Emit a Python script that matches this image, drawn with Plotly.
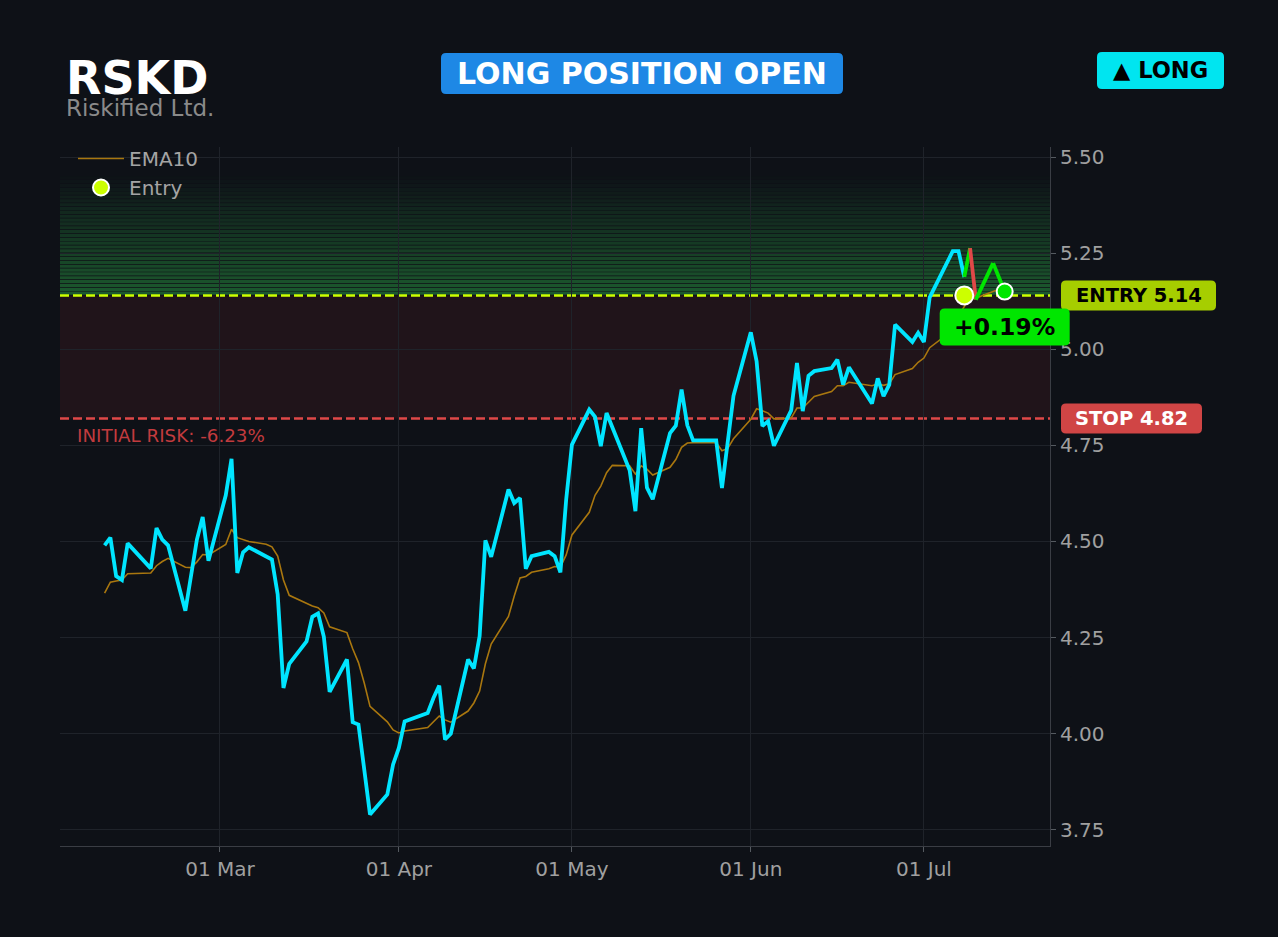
import pandas as pd
import plotly.graph_objects as go

# ---- data ----
ticker = "RSKD"
company = "Riskified Ltd."
entry_price = 5.14
stop_price = 4.82
entry_date = "2026-07-08"

close_dates = [
    "2026-02-09", "2026-02-10", "2026-02-11", "2026-02-12", "2026-02-13",
    "2026-02-17", "2026-02-18", "2026-02-19", "2026-02-20", "2026-02-23",
    "2026-02-25", "2026-02-26", "2026-02-27", "2026-03-02", "2026-03-03",
    "2026-03-04", "2026-03-05", "2026-03-06", "2026-03-10", "2026-03-11",
    "2026-03-12", "2026-03-13", "2026-03-16", "2026-03-17", "2026-03-18",
    "2026-03-19", "2026-03-20", "2026-03-23", "2026-03-24", "2026-03-25",
    "2026-03-27", "2026-03-30", "2026-03-31", "2026-04-01", "2026-04-02",
    "2026-04-06", "2026-04-07", "2026-04-08", "2026-04-09", "2026-04-10",
    "2026-04-13", "2026-04-14", "2026-04-15", "2026-04-16", "2026-04-17",
    "2026-04-20", "2026-04-21", "2026-04-22", "2026-04-23", "2026-04-24",
    "2026-04-27", "2026-04-28", "2026-04-29", "2026-04-30", "2026-05-01",
    "2026-05-04", "2026-05-05", "2026-05-06", "2026-05-07", "2026-05-11",
    "2026-05-12", "2026-05-13", "2026-05-14", "2026-05-15", "2026-05-18",
    "2026-05-19", "2026-05-20", "2026-05-21", "2026-05-22", "2026-05-26",
    "2026-05-27", "2026-05-28", "2026-05-29", "2026-06-01", "2026-06-02",
    "2026-06-03", "2026-06-04", "2026-06-05", "2026-06-08", "2026-06-09",
    "2026-06-10", "2026-06-11", "2026-06-12", "2026-06-15", "2026-06-16",
    "2026-06-17", "2026-06-18", "2026-06-22", "2026-06-23", "2026-06-24",
    "2026-06-25", "2026-06-26", "2026-06-29", "2026-06-30", "2026-07-01",
    "2026-07-02", "2026-07-06", "2026-07-07", "2026-07-08",
]
close_vals = [
    4.49, 4.51, 4.41, 4.40, 4.495,
    4.43, 4.535, 4.505, 4.49, 4.32,
    4.505, 4.564, 4.45, 4.62, 4.715,
    4.418, 4.472, 4.485, 4.453, 4.362,
    4.119, 4.182, 4.24, 4.304, 4.313,
    4.252, 4.109, 4.193, 4.03, 4.024,
    3.79, 3.842, 3.92, 3.963, 4.032,
    4.054, 4.093, 4.125, 3.985, 4.0,
    4.193, 4.17, 4.254, 4.503, 4.46,
    4.635, 4.60, 4.613, 4.429, 4.462,
    4.473, 4.462, 4.42, 4.609, 4.752,
    4.843, 4.824, 4.748, 4.834, 4.685,
    4.579, 4.795, 4.64, 4.61, 4.782,
    4.801, 4.895, 4.802, 4.763, 4.763,
    4.639, 4.76, 4.879, 5.044, 4.969,
    4.80, 4.813, 4.749, 4.841, 4.964,
    4.839, 4.931, 4.943, 4.951, 4.973,
    4.908, 4.953, 4.859, 4.924, 4.878,
    4.908, 5.064, 5.019, 5.043, 5.019,
    5.135, 5.255, 5.255, 5.188,
]

# after the entry
post_dates = ["2026-07-08", "2026-07-09", "2026-07-10", "2026-07-13", "2026-07-15"]
post_vals = [5.188, 5.263, 5.129, 5.224, 5.15]

ema_dates = [
    "2026-02-09", "2026-02-10", "2026-02-11", "2026-02-12", "2026-02-13",
    "2026-02-17", "2026-02-18", "2026-02-19", "2026-02-20", "2026-02-23",
    "2026-02-24", "2026-02-25", "2026-02-26", "2026-02-27", "2026-03-02",
    "2026-03-03", "2026-03-04", "2026-03-05", "2026-03-06", "2026-03-09",
    "2026-03-10", "2026-03-11", "2026-03-12", "2026-03-13", "2026-03-16",
    "2026-03-17", "2026-03-18", "2026-03-19", "2026-03-20", "2026-03-23",
    "2026-03-24", "2026-03-25", "2026-03-26", "2026-03-27", "2026-03-30",
    "2026-03-31", "2026-04-01", "2026-04-02", "2026-04-06", "2026-04-07",
    "2026-04-08", "2026-04-09", "2026-04-10", "2026-04-13", "2026-04-14",
    "2026-04-15", "2026-04-16", "2026-04-17", "2026-04-20", "2026-04-21",
    "2026-04-22", "2026-04-23", "2026-04-24", "2026-04-27", "2026-04-28",
    "2026-04-29", "2026-04-30", "2026-05-01", "2026-05-04", "2026-05-05",
    "2026-05-06", "2026-05-07", "2026-05-08", "2026-05-11", "2026-05-12",
    "2026-05-13", "2026-05-14", "2026-05-15", "2026-05-18", "2026-05-19",
    "2026-05-20", "2026-05-21", "2026-05-22", "2026-05-26", "2026-05-27",
    "2026-05-28", "2026-05-29", "2026-06-01", "2026-06-02", "2026-06-03",
    "2026-06-04", "2026-06-05", "2026-06-08", "2026-06-09", "2026-06-10",
    "2026-06-11", "2026-06-12", "2026-06-15", "2026-06-16", "2026-06-17",
    "2026-06-18", "2026-06-22", "2026-06-23", "2026-06-24", "2026-06-25",
    "2026-06-26", "2026-06-29", "2026-06-30", "2026-07-01", "2026-07-02",
    "2026-07-06", "2026-07-07", "2026-07-08", "2026-07-09", "2026-07-10",
    "2026-07-13", "2026-07-14", "2026-07-15",
]
ema_vals = [
    4.366, 4.394, 4.397, 4.40, 4.416,
    4.418, 4.437, 4.448, 4.456, 4.433,
    4.432, 4.447, 4.466, 4.465, 4.492,
    4.532, 4.51, 4.504, 4.50, 4.493,
    4.486, 4.462, 4.40, 4.36, 4.338,
    4.332, 4.328, 4.314, 4.278, 4.263,
    4.221, 4.185, 4.132, 4.071, 4.031,
    4.01, 4.002, 4.007, 4.016, 4.03,
    4.046, 4.036, 4.03, 4.059, 4.08,
    4.111, 4.182, 4.233, 4.305, 4.358,
    4.405, 4.409, 4.42, 4.429, 4.435,
    4.433, 4.465, 4.517, 4.576, 4.62,
    4.644, 4.679, 4.698, 4.697, 4.675,
    4.697, 4.688, 4.673, 4.693, 4.713,
    4.745, 4.756, 4.757, 4.757, 4.736,
    4.742, 4.767, 4.818, 4.845, 4.84,
    4.834, 4.819, 4.821, 4.847, 4.847,
    4.862, 4.877, 4.89, 4.905, 4.905,
    4.914, 4.905, 4.91, 4.906, 4.91,
    4.934, 4.95, 4.966, 4.977, 5.004,
    5.05, 5.088, 5.112, 5.134, 5.133,
    5.15, 5.156, 5.157,
]

# ---- look ----
FONT = "DejaVu Sans"
BG = "#0e1117"
CYAN = "#00e5ff"
LIME = "#ccff00"
GREEN = "#00e600"
RED = "#e04848"

W, H = 1278, 937
L, R, T, B = 60, 228, 147, 91
PW, PH = W - L - R, H - T - B
y_range = [3.708, 5.526]
x_range = ["2026-02-01 06:30", "2026-07-22 20:30"]


def fx(px):
    return (px - L) / PW


def fy(py):
    return (H - B - py) / PH


def price_px(p):
    return T + (y_range[1] - p) / (y_range[1] - y_range[0]) * PH


def date_px(d):
    t0, t1 = pd.Timestamp(x_range[0]), pd.Timestamp(x_range[1])
    return L + (pd.Timestamp(d) - t0) / (t1 - t0) * PW


def rounded(x0, y0, x1, y1, r=5):
    # rounded box, pixel corners -> paper path
    p = lambda x, y: f"{fx(x):.5f},{fy(y):.5f}"
    return ("M " + p(x0 + r, y0) + " L " + p(x1 - r, y0) + " Q " + p(x1, y0) + " " + p(x1, y0 + r)
            + " L " + p(x1, y1 - r) + " Q " + p(x1, y1) + " " + p(x1 - r, y1)
            + " L " + p(x0 + r, y1) + " Q " + p(x0, y1) + " " + p(x0, y1 - r)
            + " L " + p(x0, y0 + r) + " Q " + p(x0, y0) + " " + p(x0 + r, y0) + " Z")


def badge(fig, x0, y0, x1, y1, fill, text, color, size):
    fig.add_shape(type="path", path=rounded(x0, y0, x1, y1), xref="paper", yref="paper",
                  fillcolor=fill, line_width=0, layer="above")
    fig.add_annotation(x=fx((x0 + x1) / 2), y=fy((y0 + y1) / 2), xref="paper", yref="paper",
                       text="<b>" + text + "</b>", showarrow=False, xanchor="center", yanchor="middle",
                       font=dict(family=FONT, size=size, color=color))


fig = go.Figure()

# risk zone + green zone above entry
fig.add_shape(type="rect", xref="paper", yref="y", x0=0, x1=1, y0=stop_price, y1=entry_price,
              fillcolor="rgba(255,70,60,0.08)", line_width=0, layer="below")
n_bands = 31
for i in range(n_bands):
    y0 = entry_price + i * 0.01
    a = 0.30 * (1 - i / n_bands)
    fig.add_shape(type="rect", xref="paper", yref="y", x0=0, x1=1, y0=y0 + 0.0018, y1=y0 + 0.01,
                  fillcolor=f"rgba(60,255,100,{a:.3f})", line_width=0, layer="below")

fig.add_shape(type="line", xref="paper", yref="y", x0=0, x1=1, y0=entry_price, y1=entry_price,
              line=dict(color=LIME, width=2.5, dash="9px,4px"), layer="below")
fig.add_shape(type="line", xref="paper", yref="y", x0=0, x1=1, y0=stop_price, y1=stop_price,
              line=dict(color=RED, width=2.5, dash="9px,4px"), layer="below")

fig.add_trace(go.Scatter(x=ema_dates, y=ema_vals, mode="lines", name="EMA10",
                         line=dict(color="#a9770f", width=1.6)))
fig.add_trace(go.Scatter(x=close_dates, y=close_vals, mode="lines", name=ticker, showlegend=False,
                         line=dict(color=CYAN, width=3.8)))

# post-entry path, green above entry / red below
for i in range(len(post_dates) - 1):
    col = GREEN if post_vals[i + 1] >= entry_price else RED
    fig.add_trace(go.Scatter(x=post_dates[i:i + 2], y=post_vals[i:i + 2], mode="lines",
                             showlegend=False, hoverinfo="skip", line=dict(color=col, width=3.8)))

fig.add_trace(go.Scatter(x=[entry_date], y=[entry_price], mode="markers", name="Entry",
                         marker=dict(size=18, color=LIME, line=dict(color="white", width=2))))
fig.add_trace(go.Scatter(x=[post_dates[-1]], y=[post_vals[-1]], mode="markers", showlegend=False,
                         marker=dict(size=16, color=GREEN, line=dict(color="white", width=2))))

# header
fig.add_annotation(x=fx(64), y=fy(78), xref="paper", yref="paper", text="<b>" + ticker + "</b>",
                   showarrow=False, xanchor="left", yanchor="middle",
                   font=dict(family=FONT, size=46, color="white"))
fig.add_annotation(x=fx(64), y=fy(108), xref="paper", yref="paper", text=company,
                   showarrow=False, xanchor="left", yanchor="middle",
                   font=dict(family=FONT, size=23, color="#8a8a8a"))
badge(fig, 441, 53, 843, 94, "#1e88e5", "LONG POSITION OPEN", "white", 30)
badge(fig, 1097, 52, 1224, 89, "#00e5f0", "▲ LONG", "black", 22.5)

# price tags on the right
ey = price_px(entry_price)
sy = price_px(stop_price)
badge(fig, 1061, ey - 15, 1216, ey + 15, "#a6ce00", f"ENTRY {entry_price:.2f}", "black", 19.5)
badge(fig, 1061, sy - 15, 1202, sy + 15, "#d04545", f"STOP {stop_price:.2f}", "white", 19.5)

pnl = (post_vals[-1] - entry_price) / entry_price * 100
cx = date_px(post_dates[-1])
cy = price_px(post_vals[-1])
badge(fig, cx - 65, cy + 17, cx + 65, cy + 54, GREEN, f"{pnl:+.2f}%", "black", 23.5)

risk = (stop_price - entry_price) / entry_price * 100
fig.add_annotation(x=fx(75), y=fy(436), xref="paper", yref="paper",
                   text=f"INITIAL RISK: {risk:.2f}%", showarrow=False, xanchor="left", yanchor="middle",
                   font=dict(family=FONT, size=18.3, color="#c23b3e"))

fig.update_layout(
    width=W, height=H,
    margin=dict(l=L, r=R, t=T, b=B),
    paper_bgcolor=BG, plot_bgcolor=BG,
    font=dict(family=FONT, color="#a0a0a0"),
    showlegend=True,
    legend=dict(x=fx(73), y=fy(139), xanchor="left", yanchor="top", bgcolor="rgba(0,0,0,0)",
                itemwidth=46, font=dict(family=FONT, size=20, color="#a4a4a4")),
    xaxis=dict(range=x_range, type="date", dtick="M1", tickformat="%d %b",
               showgrid=True, gridcolor="#1f232a", gridwidth=1,
               showline=True, linecolor="#3a3d44", ticks="outside", ticklen=5, tickcolor="#555a60",
               tickfont=dict(size=20, color="#a0a0a0"), zeroline=False),
    yaxis=dict(range=y_range, side="right", tick0=3.75, dtick=0.25, tickformat=".2f",
               showgrid=True, gridcolor="#1f232a", gridwidth=1,
               showline=True, linecolor="#3a3d44", ticks="outside", ticklen=5, tickcolor="#555a60",
               tickfont=dict(size=20, color="#a0a0a0"), zeroline=False),
)

fig.write_html("out.html", config={"displayModeBar": False},
               post_script="document.body.style.margin='0';document.body.style.background='#0e1117';")
